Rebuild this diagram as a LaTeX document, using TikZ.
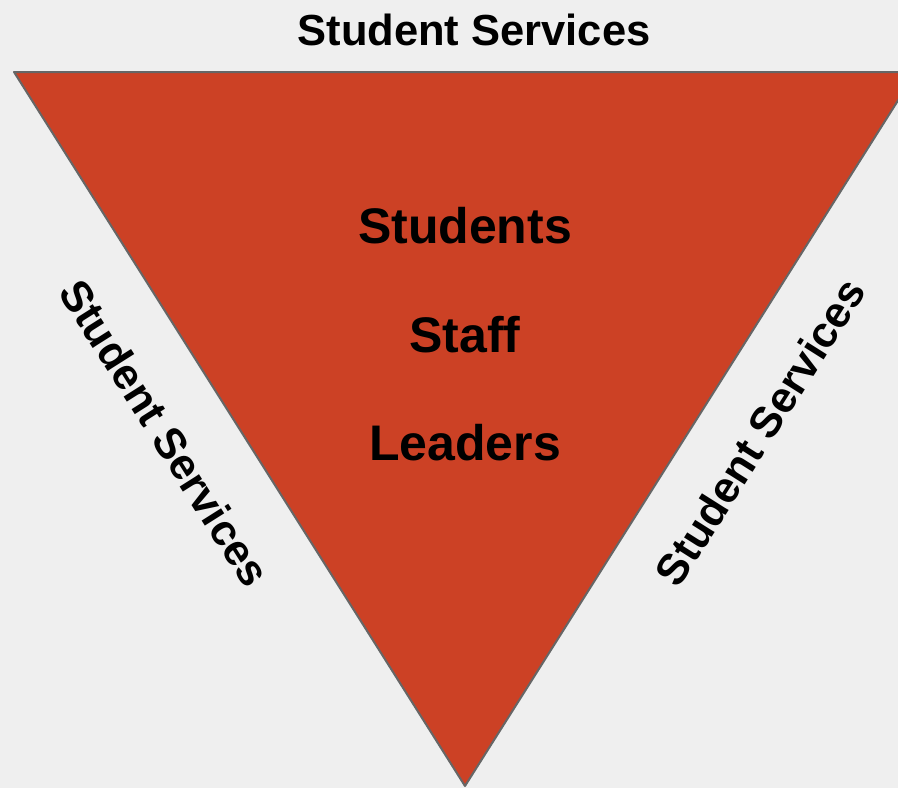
\documentclass[tikz,border=0pt]{standalone}
\usepackage{fontspec}
\setmainfont{Liberation Sans}
\usetikzlibrary{positioning}
\definecolor{berry}{HTML}{CC4125}
\definecolor{edgegray}{HTML}{666666}
\definecolor{paper}{HTML}{EFEFEF}

\begin{document}
\begin{tikzpicture}[x=1pt,y=-1pt,
   label/.style={font=\bfseries\fontsize{43.5}{50}\selectfont, inner sep=0pt},
   inlabel/.style={font=\bfseries\fontsize{50}{58}\selectfont, inner sep=0pt}]
  \fill[paper] (0,0) rectangle (898,788);                     % Background
  \useasboundingbox (0,0) rectangle (898,788);
  \clip (0,0) rectangle (898,788);

  \filldraw[fill=berry, draw=edgegray, line width=2pt, line join=round]
       (14,72) -- (916,72) -- (465,786) -- cycle;              % Triangle

  \node[label] (top) at (474,30) {Student Services};           % Top text
  \node[label, rotate=-57.7] (left) at (165,433) {Student Services};  % Left side
  \node[label, rotate=57.7] (right) at (760,432) {Student Services};  % Right side

  \node[inlabel] (students) at (465,226) {Students};           % Inner text
  \node[inlabel] (staff) at (465,335) {Staff};
  \node[inlabel] (leaders) at (465,443) {Leaders};
\end{tikzpicture}
\end{document}
